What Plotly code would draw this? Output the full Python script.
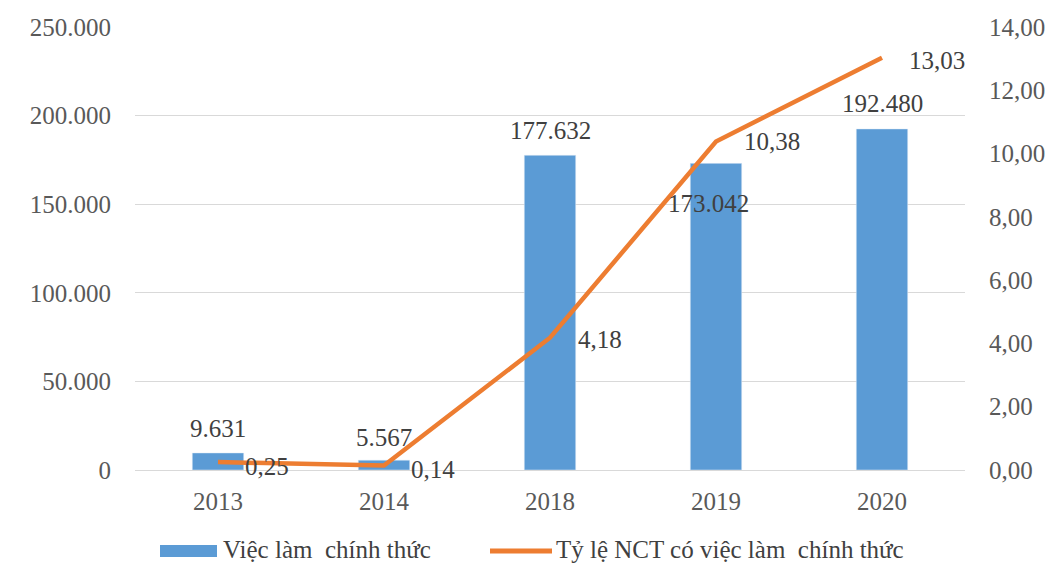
import plotly.graph_objects as go

# Số liệu việc làm chính thức của người cao tuổi
years = ["2013", "2014", "2018", "2019", "2020"]
jobs = [9631, 5567, 177632, 173042, 192480]
rate = [0.25, 0.14, 4.18, 10.38, 13.03]

y_ticks = [0, 50000, 100000, 150000, 200000, 250000]
y2_ticks = [0, 2, 4, 6, 8, 10, 12, 14]

bar_name = "Việc làm  chính thức"
line_name = "Tỷ lệ NCT có việc làm  chính thức"

BLUE = "#5B9BD5"
ORANGE = "#ED7D31"
SERIF = "Liberation Serif, Times New Roman, serif"
FS = 25

W, H = 1051, 564
ML, MR, MT, MB = 135, 86, 27, 94
PW, PH = W - ML - MR, H - MT - MB

pos = list(range(len(years)))


def vn_int(v):
    return f"{v:,.0f}".replace(",", ".")


def vn_dec(v):
    return f"{v:.2f}".replace(".", ",")


def px_x(p):
    return (p - ML) / PW


def px_y(p):
    return (H - MB - p) / PH


fig = go.Figure()
fig.add_trace(go.Bar(
    x=pos, y=jobs, name=bar_name, showlegend=False,
    marker_color=BLUE, width=0.31, yaxis="y",
))
fig.add_trace(go.Scatter(
    x=pos, y=rate, name=line_name, showlegend=False,
    mode="lines", line=dict(color=ORANGE, width=4.5), yaxis="y2",
))

# Nhãn giá trị cột
bar_offsets = [(0, 24), (0, 23), (0, 25), (-8, -40), (0, 25)]
for i, v, (dx, dy) in zip(pos, jobs, bar_offsets):
    fig.add_annotation(x=i, y=v, xref="x", yref="y", text=vn_int(v),
                       showarrow=False, xshift=dx, yshift=dy,
                       font=dict(family=SERIF, size=FS, color="#404040"))

# Nhãn giá trị đường
line_offsets = [(49, -4), (49, -4), (50, -2), (56, 0), (55, -3)]
for i, v, (dx, dy) in zip(pos, rate, line_offsets):
    fig.add_annotation(x=i, y=v, xref="x", yref="y2", text=vn_dec(v),
                       showarrow=False, xshift=dx, yshift=dy,
                       font=dict(family=SERIF, size=FS, color="#404040"))

# Chú giải vẽ bên dưới biểu đồ
fig.add_shape(type="rect", xref="paper", yref="paper",
              x0=px_x(160), x1=px_x(217), y0=px_y(557), y1=px_y(545),
              fillcolor=BLUE, line=dict(width=0))
fig.add_shape(type="line", xref="paper", yref="paper",
              x0=px_x(490), x1=px_x(552), y0=px_y(551), y1=px_y(551),
              line=dict(color=ORANGE, width=5))
for name, x0 in [(bar_name, 222), (line_name, 555)]:
    fig.add_annotation(x=px_x(x0), y=px_y(549), xref="paper", yref="paper",
                       xanchor="left", yanchor="middle", text=name,
                       showarrow=False, borderpad=0,
                       font=dict(family=SERIF, size=FS, color="#404040"))

fig.update_layout(
    width=W, height=H,
    margin=dict(l=ML, r=MR, t=MT, b=MB, autoexpand=False),
    paper_bgcolor="white", plot_bgcolor="white",
    separators=",.",
    font=dict(family=SERIF, size=FS, color="#595959"),
    showlegend=False,
    xaxis=dict(range=[-0.5, len(years) - 0.5], tickvals=pos, ticktext=years,
               showgrid=False, showline=False, zeroline=False, ticks="",
               ticklabelstandoff=14, tickfont=dict(size=FS, color="#595959")),
    yaxis=dict(range=[0, 250000], tickvals=y_ticks, tickformat=",.0f",
               showgrid=True, gridcolor="#d9d9d9", gridwidth=1,
               zeroline=True, zerolinecolor="#d9d9d9", zerolinewidth=1,
               showline=False, ticks="", ticklabelstandoff=23,
               tickfont=dict(size=FS, color="#595959")),
    yaxis2=dict(range=[0, 14], tickvals=y2_ticks, tickformat=".2f",
                overlaying="y", side="right", showgrid=False, zeroline=False,
                showline=False, ticks="", ticklabelstandoff=23,
                tickfont=dict(size=FS, color="#595959")),
)

fig.write_html("out.html")
